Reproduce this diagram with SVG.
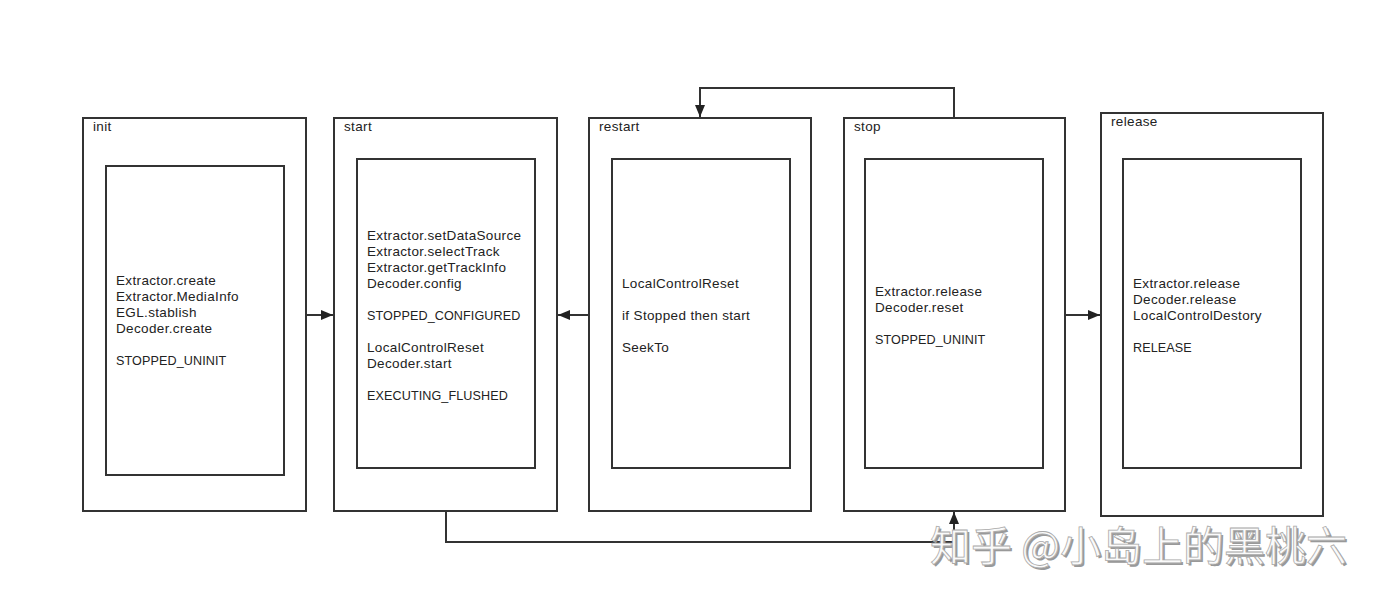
<svg xmlns="http://www.w3.org/2000/svg" width="1384" height="603" viewBox="0 0 1384 603">
<style>
.box{fill:#fff;stroke:#333;stroke-width:2}
.t{font-family:"Liberation Sans",Arial,sans-serif;font-size:13.5px;letter-spacing:0.35px;fill:#222}
.u{font-size:12.6px;letter-spacing:0.1px}
.c{fill:none;stroke:#333;stroke-width:2}
.wm{font-family:"Noto Sans CJK SC",sans-serif;font-size:41px}
</style>
<defs>
<marker id="ah" viewBox="0 0 12 10" refX="12" refY="5" markerWidth="12" markerHeight="10" markerUnits="userSpaceOnUse" orient="auto">
<path d="M0,0 L12,5 L0,10 Z" fill="#222"/>
</marker>
</defs>
<rect width="1384" height="603" fill="#fff"/>
<g id="init">
<rect class="box" x="83" y="118" width="223" height="393"/>
<text class="t" x="93" y="131">init</text>
<rect class="box" x="106" y="166" width="178" height="309"/>
<text class="t" x="116" y="285">Extractor.create</text>
<text class="t" x="116" y="301">Extractor.MediaInfo</text>
<text class="t" x="116" y="317">EGL.stablish</text>
<text class="t" x="116" y="333">Decoder.create</text>
<text class="t u" x="116" y="365">STOPPED_UNINIT</text>
</g>
<g id="start">
<rect class="box" x="334" y="118" width="223" height="393"/>
<text class="t" x="344" y="131">start</text>
<rect class="box" x="357" y="159" width="178" height="309"/>
<text class="t" x="367" y="240">Extractor.setDataSource</text>
<text class="t" x="367" y="256">Extractor.selectTrack</text>
<text class="t" x="367" y="272">Extractor.getTrackInfo</text>
<text class="t" x="367" y="288">Decoder.config</text>
<text class="t u" x="367" y="320">STOPPED_CONFIGURED</text>
<text class="t" x="367" y="352">LocalControlReset</text>
<text class="t" x="367" y="368">Decoder.start</text>
<text class="t u" x="367" y="400">EXECUTING_FLUSHED</text>
</g>
<g id="restart">
<rect class="box" x="589" y="118" width="222" height="393"/>
<text class="t" x="599" y="131">restart</text>
<rect class="box" x="612" y="159" width="178" height="309"/>
<text class="t" x="622" y="288">LocalControlReset</text>
<text class="t" x="622" y="320">if Stopped then start</text>
<text class="t" x="622" y="352">SeekTo</text>
</g>
<g id="stop">
<rect class="box" x="844" y="118" width="221" height="393"/>
<text class="t" x="854" y="131">stop</text>
<rect class="box" x="865" y="159" width="178" height="309"/>
<text class="t" x="875" y="296">Extractor.release</text>
<text class="t" x="875" y="312">Decoder.reset</text>
<text class="t u" x="875" y="344">STOPPED_UNINIT</text>
</g>
<g id="release">
<rect class="box" x="1101" y="113" width="222" height="403"/>
<text class="t" x="1111" y="126">release</text>
<rect class="box" x="1123" y="159" width="178" height="309"/>
<text class="t" x="1133" y="288">Extractor.release</text>
<text class="t" x="1133" y="304">Decoder.release</text>
<text class="t" x="1133" y="320">LocalControlDestory</text>
<text class="t u" x="1133" y="352">RELEASE</text>
</g>
<g id="connectors">
<path class="c" d="M306,315 H333" marker-end="url(#ah)"/>
<path class="c" d="M589,315 H558" marker-end="url(#ah)"/>
<path class="c" d="M1065,315 H1100" marker-end="url(#ah)"/>
<path class="c" d="M954,118 V88 H700 V117" marker-end="url(#ah)"/>
<path class="c" d="M446,511 V542 H954 V512" marker-end="url(#ah)"/>
</g>
<g id="watermark">
<text class="wm" x="932" y="563" fill="#999">知乎 @小岛上的黑桃六</text>
<text class="wm" x="930" y="561" fill="#fafafa" stroke="#aaa" stroke-width="0.8">知乎 @小岛上的黑桃六</text>
</g>
</svg>
